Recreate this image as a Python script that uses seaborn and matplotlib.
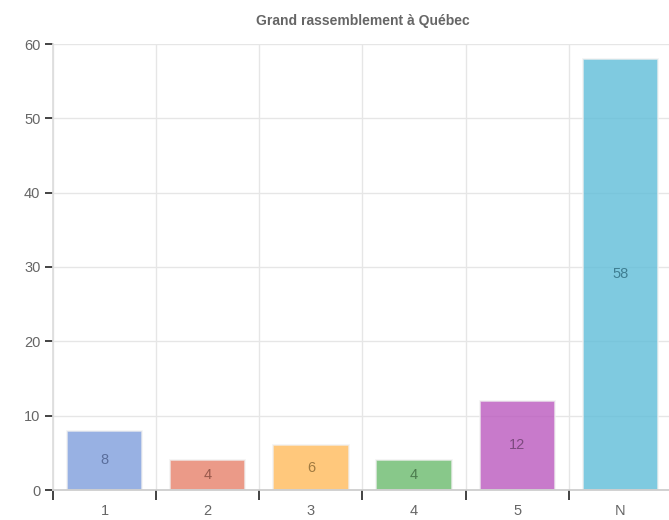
import matplotlib
matplotlib.use("Agg")
import matplotlib.pyplot as plt
import seaborn as sns
import pandas as pd
import numpy as np

categories = ["1", "2", "3", "4", "5", "N"]
values = [8, 4, 6, 4, 12, 58]
colors = ["#7E9EDD", "#E7816A", "#FFBB5B", "#6ABB6D", "#BB59BE", "#5FBDD9"]
label_colors = ["#5a6e9c", "#9a5a4c", "#a07a40", "#4c7c4e", "#7e4a80", "#3f7e92"]
title = "Grand rassemblement à Québec"

sns.set_theme(style="white")
plt.rcParams["font.family"] = ["Liberation Sans", "DejaVu Sans"]

fig = plt.figure(figsize=(6.69, 5.2), dpi=100)
ax = fig.add_axes([53/669, 30/520, 619/669, 446/520])

df = pd.DataFrame({"cat": categories, "val": values})
sns.barplot(data=df, x="cat", y="val", hue="cat", palette=colors, legend=False,
            width=0.73, alpha=0.8, ax=ax, saturation=1,
            edgecolor="#f0f0f0", linewidth=1.2)

for cont, lc in zip(ax.containers, label_colors):
    ax.bar_label(cont, label_type="center", color=lc, fontsize=10.5)

ax.set_xlim(-0.5, 5.5)
ax.set_ylim(0, 60)
ax.set_yticks(range(0, 61, 10))
ax.set_xlabel("")
ax.set_ylabel("")

ax.set_xticks(np.arange(-0.5, 5.6, 1), minor=True)
ax.set_axisbelow(True)
ax.grid(True, which="minor", axis="x", color="#e6e6e6", linewidth=1)
ax.grid(True, which="major", axis="y", color="#e6e6e6", linewidth=1)
ax.tick_params(axis="x", which="major", length=0, pad=10, labelsize=10.5, labelcolor="#666666")
ax.tick_params(axis="x", which="minor", length=7, width=1.2, color="#222222", direction="out", bottom=True)
ax.tick_params(axis="y", which="major", length=6, width=1.2, color="#222222", left=True, pad=3,
               labelsize=10.5, labelcolor="#666666")

for s in ["top", "right"]:
    ax.spines[s].set_visible(False)
ax.spines["left"].set_color("#dddddd")
ax.spines["bottom"].set_color("#cccccc")

ax.set_title(title, fontsize=10, color="#666666", fontweight="bold", pad=14)

fig.savefig("out.png", dpi=100)
